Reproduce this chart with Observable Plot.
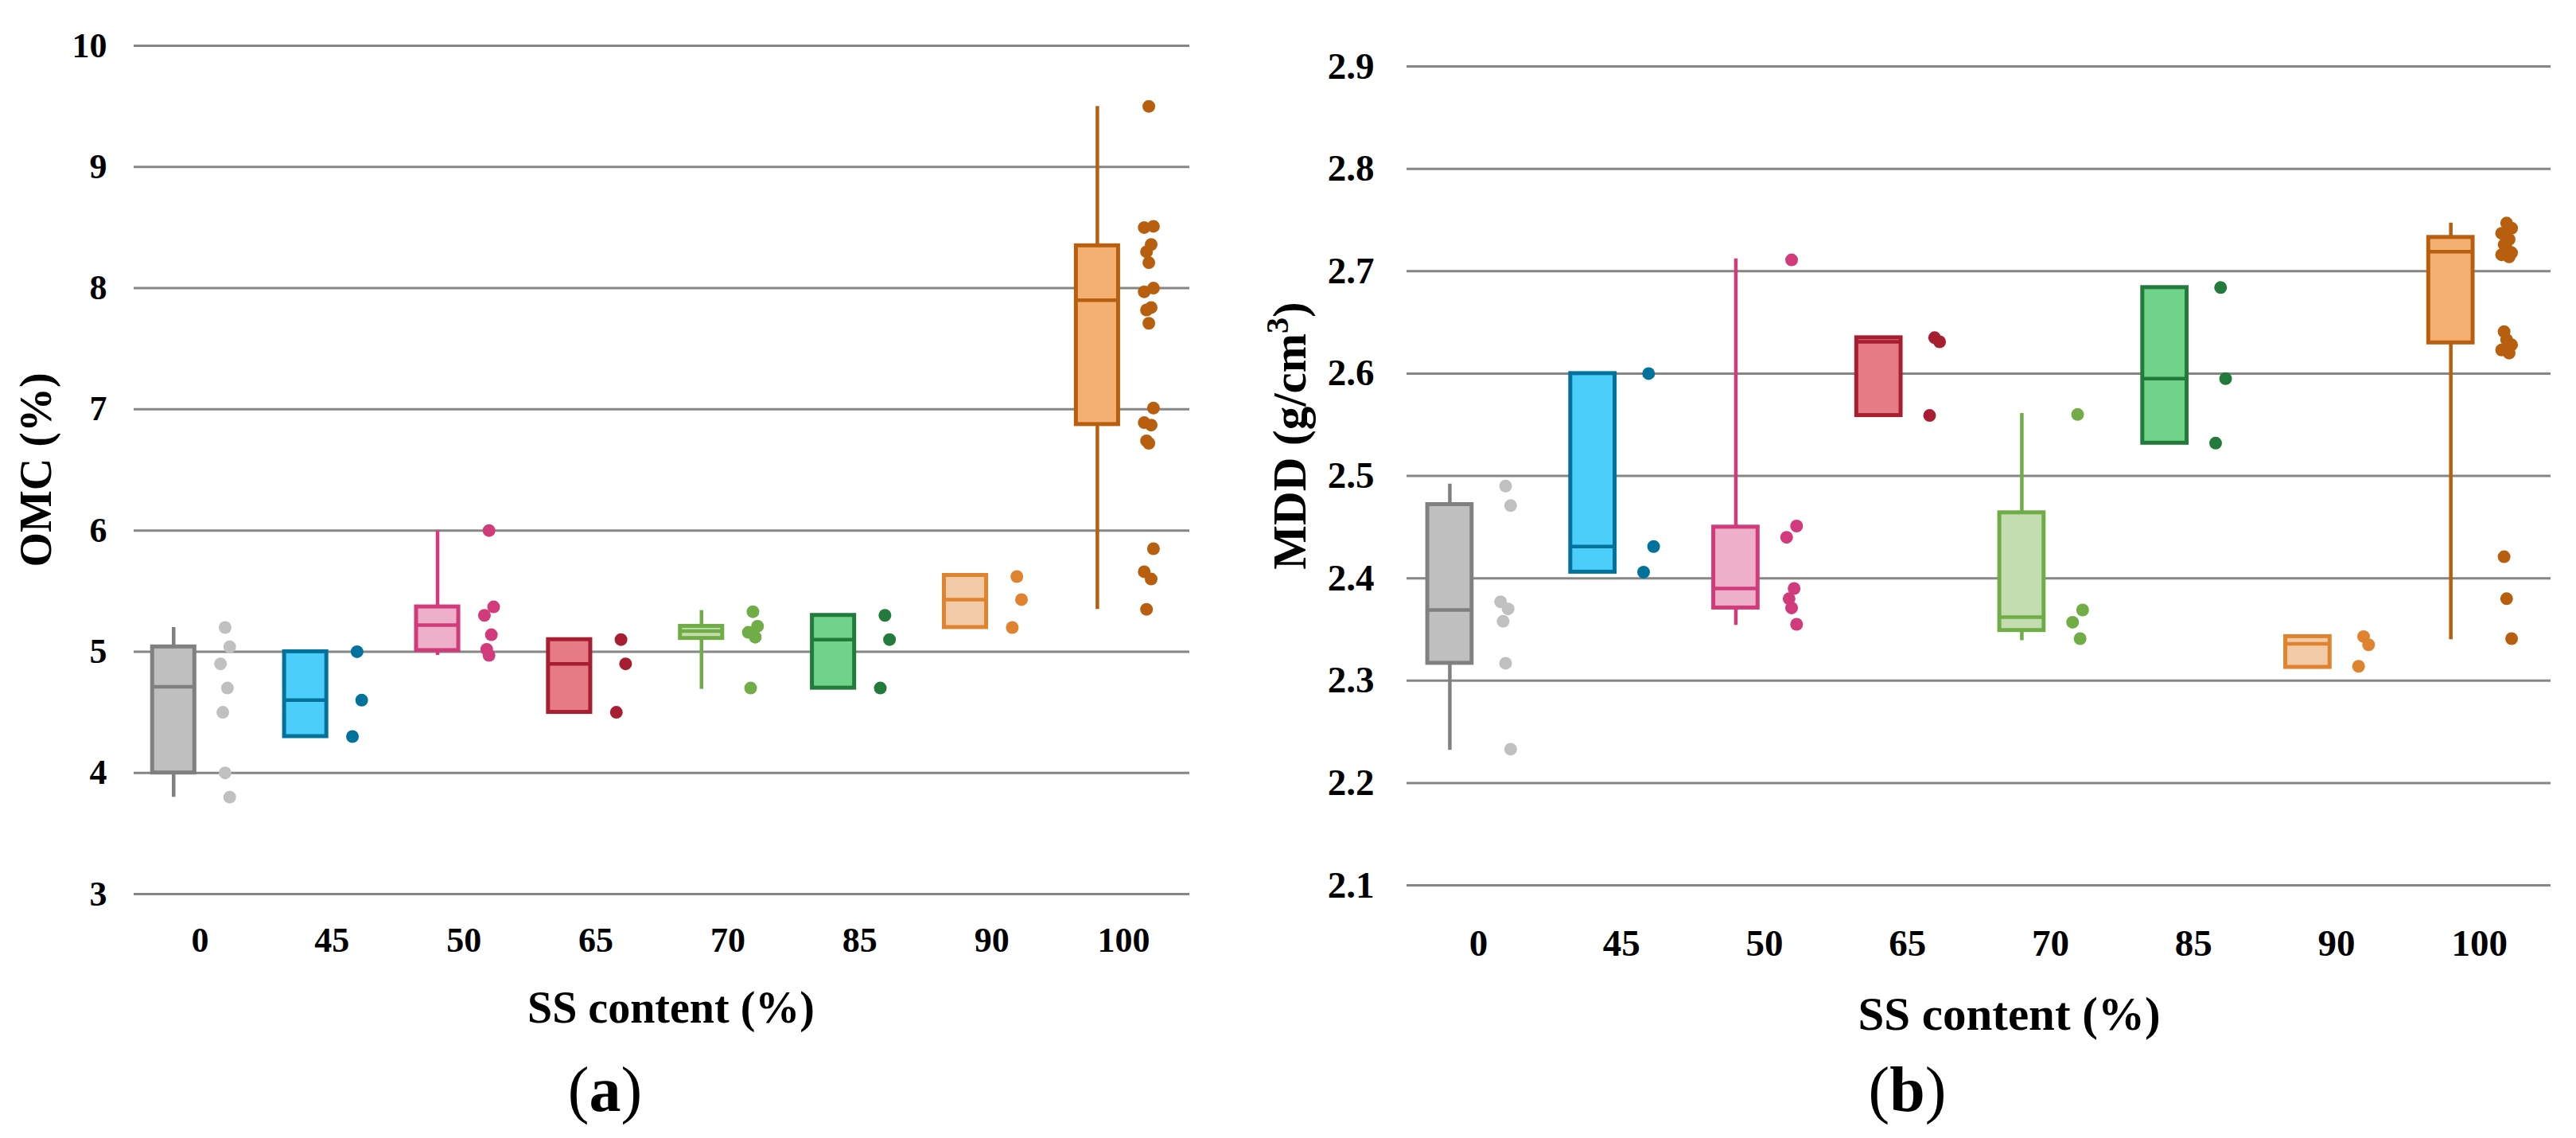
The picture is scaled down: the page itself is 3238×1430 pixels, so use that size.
<!DOCTYPE html>
<html>
<head>
<meta charset="utf-8">
<script src="https://cdn.jsdelivr.net/npm/d3@7"></script>
<script src="https://cdn.jsdelivr.net/npm/@observablehq/plot@0.6"></script>
<style>
  html, body { margin: 0; padding: 0; background: #fff; }
  body { width: 3238px; height: 1430px; position: relative; overflow: hidden; font-family: "Liberation Serif", "Times New Roman", serif; }
  #chartA, #chartB { position: absolute; top: 0; }
  #chartA { left: 0; }
  #chartB { left: 1560px; }
</style>
</head>
<body>
<div id="chartA"></div>
<div id="chartB"></div>
<script>
// ---------- shared ----------
const categories = ["0", "45", "50", "65", "70", "85", "90", "100"];
const strokeColors = ["#808080", "#00729c", "#d13b7b", "#a61e2f", "#70ad47", "#227a3b", "#e0832e", "#b75f0f"];
const fillColors   = ["#bfbfbf", "#4bcefa", "#edafc9", "#e67b85", "#c4ddb0", "#6fd48a", "#f1caa7", "#f4af72"];
const dotColors    = ["#c0c0c0", "#00729c", "#d13b7b", "#a61e2f", "#70ad47", "#227a3b", "#e0832e", "#b75f0f"];

// ---------- (a) OMC ----------
const omcTicks  = [3, 4, 5, 6, 7, 8, 9, 10];
const omcMin    = [3.80, 4.30, 4.97, 4.50, 4.69, 4.70, 5.20, 5.35];
const omcQ1     = [4.00, 4.30, 5.01, 4.50, 5.11, 4.70, 5.20, 6.875];
const omcMedian = [4.71, 4.60, 5.22, 4.90, 5.17, 5.10, 5.43, 7.90];
const omcQ3     = [5.04, 5.00, 5.37, 5.10, 5.21, 5.30, 5.63, 8.35];
const omcMax    = [5.20, 5.00, 6.00, 5.10, 5.34, 5.30, 5.63, 9.50];
const omcPoints = [
  [5.20, 5.04, 4.90, 4.70, 4.50, 4.00, 3.80],
  [5.00, 4.60, 4.30],
  [6.00, 5.37, 5.30, 5.14, 5.02, 4.97],
  [5.10, 4.90, 4.50],
  [5.33, 5.21, 5.16, 5.12, 4.70],
  [5.30, 5.10, 4.70],
  [5.62, 5.43, 5.20],
  [9.50, 8.51, 8.50, 8.36, 8.30, 8.21, 8.00, 7.97, 7.84, 7.82, 7.71, 7.01, 6.89, 6.87, 6.74, 6.72, 5.85, 5.66, 5.60, 5.35]
];

// ---------- (b) MDD ----------
const mddTicks  = [2.1, 2.2, 2.3, 2.4, 2.5, 2.6, 2.7, 2.8, 2.9];
const mddMin    = [2.232, 2.406, 2.354, 2.559, 2.339, 2.532, 2.313, 2.340];
const mddQ1     = [2.317, 2.406, 2.371, 2.559, 2.349, 2.532, 2.313, 2.630];
const mddMedian = [2.369, 2.431, 2.390, 2.631, 2.362, 2.595, 2.336, 2.719];
const mddQ3     = [2.472, 2.600, 2.450, 2.635, 2.464, 2.684, 2.343, 2.733];
const mddMax    = [2.492, 2.600, 2.712, 2.635, 2.561, 2.684, 2.343, 2.747];
const mddPoints = [
  [2.490, 2.471, 2.377, 2.370, 2.358, 2.317, 2.233],
  [2.600, 2.431, 2.406],
  [2.711, 2.451, 2.440, 2.390, 2.380, 2.371, 2.355],
  [2.635, 2.631, 2.559],
  [2.560, 2.369, 2.357, 2.341],
  [2.684, 2.595, 2.532],
  [2.343, 2.335, 2.314],
  [2.747, 2.742, 2.737, 2.731, 2.726, 2.722, 2.718, 2.716, 2.714, 2.641, 2.633, 2.628, 2.623, 2.620, 2.421, 2.380, 2.341]
];

const jitterPattern = [0, 1, -1, 0.5, -0.5];

function makeChart(cfg) {
  const boxes = categories.map((c, i) => ({
    i, min: cfg.min[i], q1: cfg.q1[i], med: cfg.median[i], q3: cfg.q3[i], max: cfg.max[i]
  }));
  const pts = cfg.points.flatMap((arr, i) => arr.map((v, j) => ({ i, j, v })));
  const bo = -0.2, hw = cfg.halfWidth, po = cfg.dotOffset;
  const font = "'Liberation Serif', 'Times New Roman', serif";
  const svg = Plot.plot({
    width: cfg.width,
    height: 1430,
    marginLeft: cfg.ml, marginRight: cfg.mr, marginTop: cfg.mt, marginBottom: cfg.mb,
    style: { fontFamily: font, fontSize: cfg.tickSize + "px", fontWeight: "bold", color: "#000", background: "#fff", overflow: "visible" },
    x: { domain: [-0.5, 7.5] },
    y: { domain: cfg.domain },
    marks: [
      Plot.ruleY(cfg.ticks, { stroke: "#868686", strokeWidth: 3 }),
      Plot.ruleX(boxes, { x: d => d.i + bo, y1: "min", y2: "max", stroke: d => strokeColors[d.i], strokeWidth: 4.5 }),
      Plot.rect(boxes, { x1: d => d.i + bo - hw, x2: d => d.i + bo + hw, y1: "q1", y2: "q3",
        fill: d => fillColors[d.i], stroke: d => strokeColors[d.i], strokeWidth: 5 }),
      Plot.ruleY(boxes, { y: "med", x1: d => d.i + bo - hw, x2: d => d.i + bo + hw, stroke: d => strokeColors[d.i], strokeWidth: 4.5 }),
      Plot.dot(pts, { x: d => d.i + po + jitterPattern[d.j % 5] * 0.035, y: "v", r: 8, fill: d => dotColors[d.i], stroke: "none" }),
      Plot.axisY(cfg.ticks, { tickSize: 0, tickPadding: cfg.yPad, tickFormat: cfg.fmt, fontSize: cfg.tickSize, fontWeight: "bold", label: null }),
      Plot.axisX(d3.range(categories.length), { tickSize: 0, tickPadding: cfg.xPad, tickFormat: i => categories[i], fontSize: cfg.tickSize, fontWeight: "bold", label: null }),
      Plot.text([cfg.xTitle], { frameAnchor: "bottom-left", textAnchor: "middle", lineAnchor: "middle",
        dx: cfg.xTitleDx, dy: cfg.xTitleDy, fontSize: cfg.titleSize, fontWeight: "bold" }),
      Plot.text([cfg.yTitle], { frameAnchor: "top-left", textAnchor: "middle", lineAnchor: "middle",
        dx: cfg.yTitleDx, dy: cfg.yTitleDy, rotate: -90, fontSize: cfg.titleSize, fontWeight: "bold" }),
      Plot.text([cfg.panel], { frameAnchor: "bottom-left", textAnchor: "middle", lineAnchor: "middle",
        dx: cfg.panelDx, dy: cfg.panelDy, fontSize: 80, fontWeight: "normal" })
    ]
  });
  return svg;
}

const svgA = makeChart({
  width: 1560, ml: 168, mr: 65, mt: 57, mb: 307,
  domain: [3, 10], ticks: omcTicks, fmt: d => String(d),
  min: omcMin, q1: omcQ1, median: omcMedian, q3: omcQ3, max: omcMax, points: omcPoints,
  halfWidth: 0.16, dotOffset: 0.19,
  tickSize: 44, titleSize: 56, yPad: 34, xPad: 41,
  xTitle: "SS content (%)", xTitleDx: 675, xTitleDy: 144,
  yTitle: "OMC (%)", yTitleDx: -122, yTitleDy: 533,
  panel: "(a)", panelDx: 592, panelDy: 247
});
document.getElementById("chartA").appendChild(svgA);

const svgB = makeChart({
  width: 1678, ml: 208, mr: 32, mt: 83, mb: 318,
  domain: [2.1, 2.9], ticks: mddTicks, fmt: d3.format(".1f"),
  min: mddMin, q1: mddQ1, median: mddMedian, q3: mddQ3, max: mddMax, points: mddPoints,
  halfWidth: 0.155, dotOffset: 0.19,
  tickSize: 47, titleSize: 59, yPad: 41, xPad: 55,
  xTitle: "SS content (%)", xTitleDx: 757, xTitleDy: 163,
  yTitle: "MDD (g/cm3)", yTitleDx: -146, yTitleDy: 464,
  panel: "(b)", panelDx: 629, panelDy: 258
});
document.getElementById("chartB").appendChild(svgB);

// rich text: bold panel letters, superscript 3
d3.selectAll("svg text").each(function () {
  const t = this.textContent;
  if (t === "(a)" || t === "(b)") {
    const letter = t.slice(1, 2);
    this.innerHTML = '(<tspan font-weight="bold">' + letter + '</tspan>)';
  } else if (t === "MDD (g/cm3)") {
    this.innerHTML = 'MDD (g/cm<tspan baseline-shift="super" font-size="68%">3</tspan>)';
  }
});
</script>
</body>
</html>
